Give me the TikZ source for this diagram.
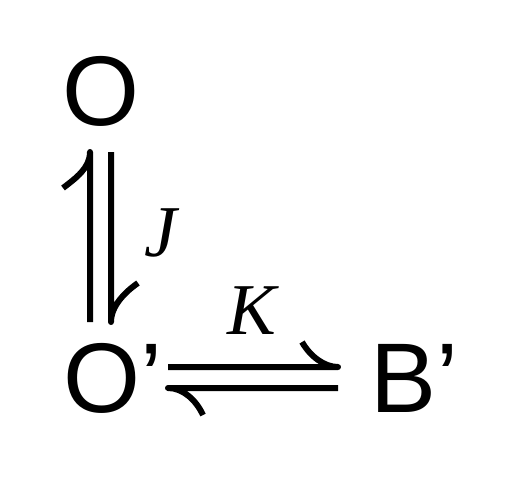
\documentclass[tikz,border=0pt]{standalone}
\usepackage{fontspec}
\setmainfont{Liberation Sans}
\newfontfamily\serifit{Liberation Serif}[Scale=1]
\begin{document}
\begin{tikzpicture}[x=1pt,y=-1pt,
  species/.style={inner sep=0pt,outer sep=0pt,anchor=base west,font=\fontsize{99}{99}\selectfont},
  rate/.style={inner sep=0pt,outer sep=0pt,anchor=base west,font=\serifit\itshape\fontsize{73}{73}\selectfont},
  harp/.style={line width=6pt,line cap=butt,line join=round}]
\useasboundingbox[fill=white] (0,0) rectangle (520,499);
\node[species] (O) at (62,125) {O};
\node[species] (Op) at (63,412) {O’};
\node[species] (Bp) at (370,412) {B’};
\node[rate] (J) at (144,256) {J};
\node[rate] (K) at (227,334) {K};
% vertical equilibrium O <-> O'
\coordinate (vl1) at (90,322);
\coordinate (vl2) at (90,152);
\coordinate (vr1) at (111,152);
\coordinate (vr2) at (111,322);
\draw[harp] (vl1) -- (vl2) .. controls (90,168) and (76,178) .. (63,188);
\draw[harp] (vr1) -- (vr2) .. controls (111,306) and (125,292) .. (138,283);
% horizontal equilibrium O' <-> B'
\coordinate (ht1) at (168,367);
\coordinate (ht2) at (338,367);
\coordinate (hb1) at (338,388);
\coordinate (hb2) at (168,388);
\draw[harp] (ht1) -- (ht2) .. controls (324,367) and (310,356) .. (302,342);
\draw[harp] (hb1) -- (hb2) .. controls (183,388) and (196,400) .. (203,415);
\end{tikzpicture}
\end{document}
